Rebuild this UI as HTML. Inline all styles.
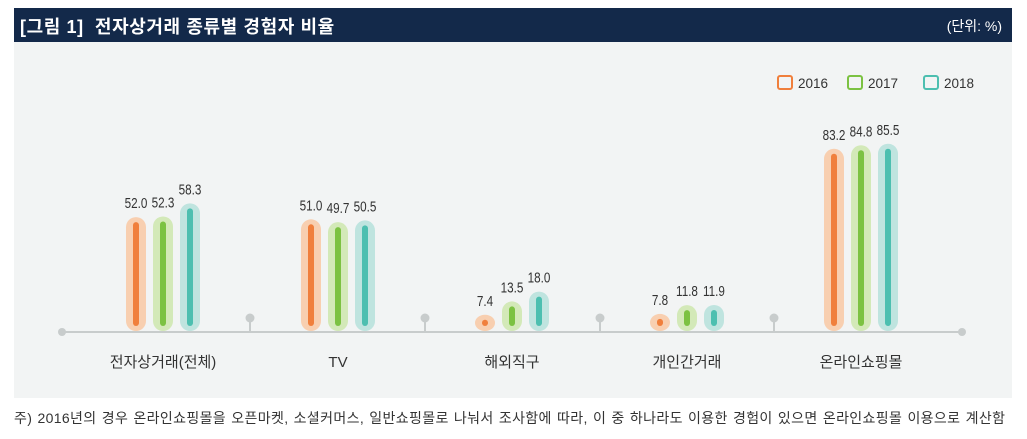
<!DOCTYPE html>
<html><head><meta charset="utf-8"><style>
body{margin:0;width:1027px;height:439px;background:#fff;font-family:"Liberation Sans","Noto Sans CJK KR",sans-serif;overflow:hidden;position:relative}
.hdr{position:absolute;left:14px;top:8px;width:998px;height:34px;background:#13294a;color:#fff}
.hdr .t{position:absolute;left:6px;top:5px;font-size:18px;font-weight:bold;letter-spacing:0.6px}
.hdr .u{position:absolute;right:10px;top:8px;font-size:14px}
.bg{position:absolute;left:14px;top:42px;width:998px;height:356px;background:#f2f4f4}
.foot{position:absolute;left:14px;top:408px;font-size:14px;color:#333;white-space:nowrap;letter-spacing:0.35px;word-spacing:1px}
</style></head><body>
<div class="hdr"><span class="t">[그림 1]&nbsp; 전자상거래 종류별 경험자 비율</span><span class="u">(단위: %)</span></div>
<div class="bg"></div>
<svg width="1027" height="439" style="position:absolute;left:0;top:0" font-family="Liberation Sans, Noto Sans CJK KR, sans-serif">
<line x1="62" y1="332" x2="962" y2="332" stroke="#c8cccc" stroke-width="2"/>
<circle cx="62" cy="332" r="4" fill="#c8cccc"/><circle cx="962" cy="332" r="4" fill="#c8cccc"/>
<g fill="#c8cccc" stroke="#c8cccc">
<line x1="250" y1="318" x2="250" y2="332" stroke-width="2"/><circle cx="250" cy="318" r="4"/>
<line x1="425" y1="318" x2="425" y2="332" stroke-width="2"/><circle cx="425" cy="318" r="4"/>
<line x1="600" y1="318" x2="600" y2="332" stroke-width="2"/><circle cx="600" cy="318" r="4"/>
<line x1="774" y1="318" x2="774" y2="332" stroke-width="2"/><circle cx="774" cy="318" r="4"/>
</g>
<g id="bars"></g>
<g font-size="15" fill="#333" text-anchor="middle">
<text x="163" y="367">전자상거래(전체)</text><text x="338" y="367">TV</text><text x="512" y="367">해외직구</text><text x="687" y="367">개인간거래</text><text x="861" y="367">온라인쇼핑몰</text>
</g>
<g font-size="13.5" fill="#333">
<rect x="778" y="76" width="14" height="13" rx="2" fill="none" stroke="#f07f3c" stroke-width="2"/><text x="798" y="88">2016</text>
<rect x="848" y="76" width="14" height="13" rx="2" fill="none" stroke="#7cc242" stroke-width="2"/><text x="868" y="88">2017</text>
<rect x="924" y="76" width="14" height="13" rx="2" fill="none" stroke="#4dbfb0" stroke-width="2"/><text x="944" y="88">2018</text>
</g>
</svg>
<script>
var d=[[52.0,52.3,58.3],[51.0,49.7,50.5],[7.4,13.5,18.0],[7.8,11.8,11.9],[83.2,84.8,85.5]];
var c=[163,338,512,687,861],inn=["#f07f3c","#7cc242","#4dbfb0"],out=["#f8cfb0","#d3e9b8","#bfe4df"];
var s="";
d.forEach(function(g,i){g.forEach(function(v,j){var x=c[i]+(j-1)*27,b=331,top=b-v*2.19;
s+='<rect x="'+(x-10)+'" y="'+top+'" width="20" height="'+(b-top)+'" rx="10" fill="'+out[j]+'"/>';
var it=top+8,ib=b-8;if(ib<it){it=ib=(top+b)/2;}
s+='<line x1="'+x+'" y1="'+it+'" x2="'+x+'" y2="'+ib+'" stroke="'+inn[j]+'" stroke-width="6" stroke-linecap="round"/>';
s+='<text x="'+x+'" y="'+(top-9)+'" font-size="15" fill="#333" text-anchor="middle" transform="translate('+x+' 0) scale(0.78 1) translate('+(-x)+' 0)">'+v.toFixed(1)+'</text>';});});
document.getElementById("bars").innerHTML=s;
</script>
<div class="foot">주) 2016년의 경우 온라인쇼핑몰을 오픈마켓, 소셜커머스, 일반쇼핑몰로 나눠서 조사함에 따라, 이 중 하나라도 이용한 경험이 있으면 온라인쇼핑몰 이용으로 계산함</div>
</body></html>
